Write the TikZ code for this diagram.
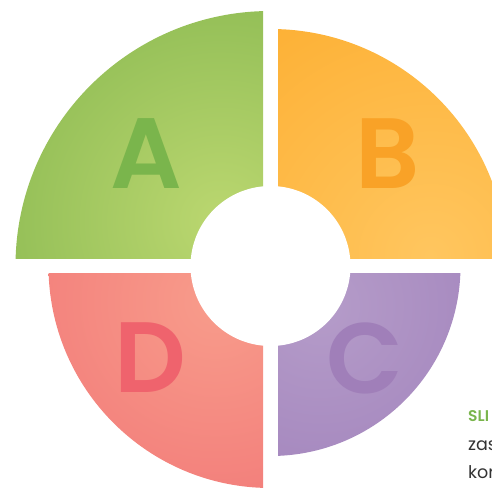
\documentclass[tikz,border=0pt]{standalone}
\usepackage{fontspec}
\setmainfont{Poppins}
\newfontfamily\letterfont{Poppins SemiBold}
\usepackage{tikz}

\definecolor{aLight}{HTML}{BBD770}
\definecolor{aDark}{HTML}{8DBB53}
\definecolor{bLight}{HTML}{FFC65F}
\definecolor{bDark}{HTML}{FDB034}
\definecolor{cLight}{HTML}{B59CC9}
\definecolor{cDark}{HTML}{A385BD}
\definecolor{dLight}{HTML}{F89C8B}
\definecolor{dDark}{HTML}{F27B79}
\definecolor{letterA}{HTML}{7AB54C}
\definecolor{letterB}{HTML}{F9A227}
\definecolor{letterC}{HTML}{A07FB9}
\definecolor{letterD}{HTML}{EF636D}
\definecolor{textGrey}{HTML}{333333}

\begin{document}
\begin{tikzpicture}[x=1pt,y=1pt,
	letter/.style={inner sep=0pt, font=\fontsize{100}{100}\letterfont},
	caption/.style={anchor=base west, inner sep=0pt, text=textGrey, font=\fontsize{17.5}{20}\selectfont}]
	\useasboundingbox (-270.5,-221) rectangle (221.5,266);
	% Quadrants:
	\begin{scope}
		\clip (-7.5,7.5) rectangle (-260,260);
		\clip (0,0) circle (255);
		\shade[inner color=aLight, outer color=aDark] (-50,45) circle (255);
	\end{scope}
	\begin{scope}
		\clip (7.5,7.5) rectangle (260,260);
		\clip (0,0) circle (237);
		\shade[inner color=bLight, outer color=bDark] (160,10) circle (290);
	\end{scope}
	\begin{scope}
		\clip (7.5,-7.5) rectangle (260,-260);
		\clip (0,0) circle (190);
		\shade[inner color=cLight, outer color=cDark] (50,-40) circle (200);
	\end{scope}
	\begin{scope}
		\clip (-7.5,-7.5) rectangle (-260,-260);
		\clip (0,0) circle (222);
		\shade[inner color=dLight, outer color=dDark] (-55,-35) circle (230);
	\end{scope}
	\fill[white] (0,0) circle (80);
	% Letters:
	\node[letter, text=letterA] (a) at (-124.5,112) {A};
	\node[letter, text=letterB] (b) at (117.5,112) {B};
	\node[letter, text=letterC] (c) at (94.5,-92) {C};
	\node[letter, text=letterD] (d) at (-120,-92) {D};
	% Text:
	\node[caption, text=letterA, font=\fontsize{15.5}{18}\letterfont] (title) at (197.5,-155.7) {SLI};
	\node[caption] (line1) at (197.5,-184) {zas};
	\node[caption] (line2) at (197.5,-212) {kor};
\end{tikzpicture}
\end{document}
